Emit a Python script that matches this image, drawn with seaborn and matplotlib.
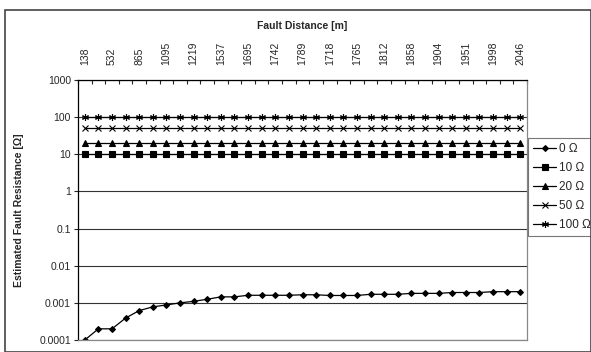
import numpy as np
import pandas as pd
import matplotlib
matplotlib.use("Agg")
import matplotlib.pyplot as plt
import seaborn as sns
from matplotlib.patches import Rectangle

# fault distances shown on the axis (every other category is labelled)
distance_labels = ['138', '532', '865', '1095', '1219', '1537', '1695', '1742', '1789',
                   '1718', '1765', '1812', '1858', '1904', '1951', '1998', '2046']
n_points = 33

series_names = ['0 \u03a9', '10 \u03a9', '20 \u03a9', '50 \u03a9', '100 \u03a9']
est_0 = [1e-4, 2e-4, 2e-4, 3.9e-4, 6.2e-4, 7.8e-4, 8.8e-4, 1.0e-3, 1.1e-3, 1.25e-3, 1.45e-3,
         1.45e-3, 1.6e-3, 1.6e-3, 1.6e-3, 1.6e-3, 1.65e-3, 1.65e-3, 1.58e-3, 1.58e-3, 1.58e-3,
         1.7e-3, 1.7e-3, 1.7e-3, 1.8e-3, 1.8e-3, 1.8e-3, 1.9e-3, 1.9e-3, 1.9e-3, 2.0e-3, 2.0e-3, 2.0e-3]
est_10 = [10.0] * n_points
est_20 = [20.0] * n_points
est_50 = [50.0] * n_points
est_100 = [100.0] * n_points

rows = []
for name, vals in zip(series_names, [est_0, est_10, est_20, est_50, est_100]):
    for i, v in enumerate(vals):
        rows.append({'pos': i, 'value': v, 'series': name})
df = pd.DataFrame(rows)

sns.set_style('white')
plt.rcParams['font.family'] = ['Liberation Sans', 'DejaVu Sans']

fig = plt.figure(figsize=(5.91, 3.52), dpi=100)
W, H = 591, 352
ax = fig.add_axes([78 / W, 1 - 340 / H, (527 - 78) / W, (340 - 80) / H])

markers = {'0 \u03a9': 'D', '10 \u03a9': 's', '20 \u03a9': '^', '50 \u03a9': 'x', '100 \u03a9': (6, 2, 0)}
msizes = {'0 \u03a9': 3, '10 \u03a9': 5, '20 \u03a9': 5, '50 \u03a9': 4, '100 \u03a9': 5}

for name in series_names:
    sub = df[df['series'] == name]
    sns.lineplot(data=sub, x='pos', y='value', ax=ax, color='black', lw=0.9,
                 marker=markers[name], markersize=msizes[name], markeredgewidth=0.8,
                 markeredgecolor='black', markerfacecolor='black', label=name)

ax.set_yscale('log')
ax.set_ylim(1e-4, 1000)
ax.set_xlim(-0.5, n_points - 0.5)

yt = [1e-4, 1e-3, 1e-2, 1e-1, 1, 10, 100, 1000]
ax.set_yticks(yt)
ax.set_yticklabels(['0.0001', '0.001', '0.01', '0.1', '1', '10', '100', '1000'], fontsize=7.5)
ax.yaxis.set_minor_locator(matplotlib.ticker.NullLocator())
ax.tick_params(axis='y', which='major', direction='out', length=3, width=0.8, left=True, pad=2)
ax.grid(axis='y', color='#333333', lw=0.8)

ax.xaxis.tick_top()
ax.xaxis.set_label_position('top')
ax.set_xticks(np.arange(-0.5, n_points, 1.0))
ax.set_xticklabels([])
ax.set_xticks(np.arange(0, n_points, 2), minor=True)
ax.set_xticklabels(distance_labels, minor=True, rotation=90, fontsize=7.5)
ax.tick_params(axis='x', which='major', direction='in', length=3, width=0.8, top=True, bottom=False)
ax.tick_params(axis='x', which='minor', length=0, top=True, bottom=False, pad=11)

ax.set_xlabel('Fault Distance [m]', fontsize=7.5, fontweight='bold', labelpad=9)
ax.set_ylabel('Estimated Fault Resistance [\u03a9]', fontsize=7.5, fontweight='bold', labelpad=11)

for side in ['left', 'top']:
    ax.spines[side].set_color('black')
    ax.spines[side].set_linewidth(0.9)
for side in ['right', 'bottom']:
    ax.spines[side].set_color('#888888')
    ax.spines[side].set_linewidth(0.9)

leg = ax.legend(loc='upper left', bbox_to_anchor=(528 / W, 1 - 138 / H),
                bbox_transform=fig.transFigure, frameon=True, fancybox=False,
                fontsize=8.5, handlelength=2.0, handletextpad=0.2, labelspacing=0.6,
                borderpad=0.4, borderaxespad=0)
leg.get_frame().set_edgecolor('#555555')
leg.get_frame().set_linewidth(0.8)

fig.patches.append(Rectangle((5 / W, 0), (W - 5) / W, 1 - 10 / H, transform=fig.transFigure,
                             fill=False, edgecolor='#444444', lw=1.2))

fig.savefig('out.png', dpi=100)
